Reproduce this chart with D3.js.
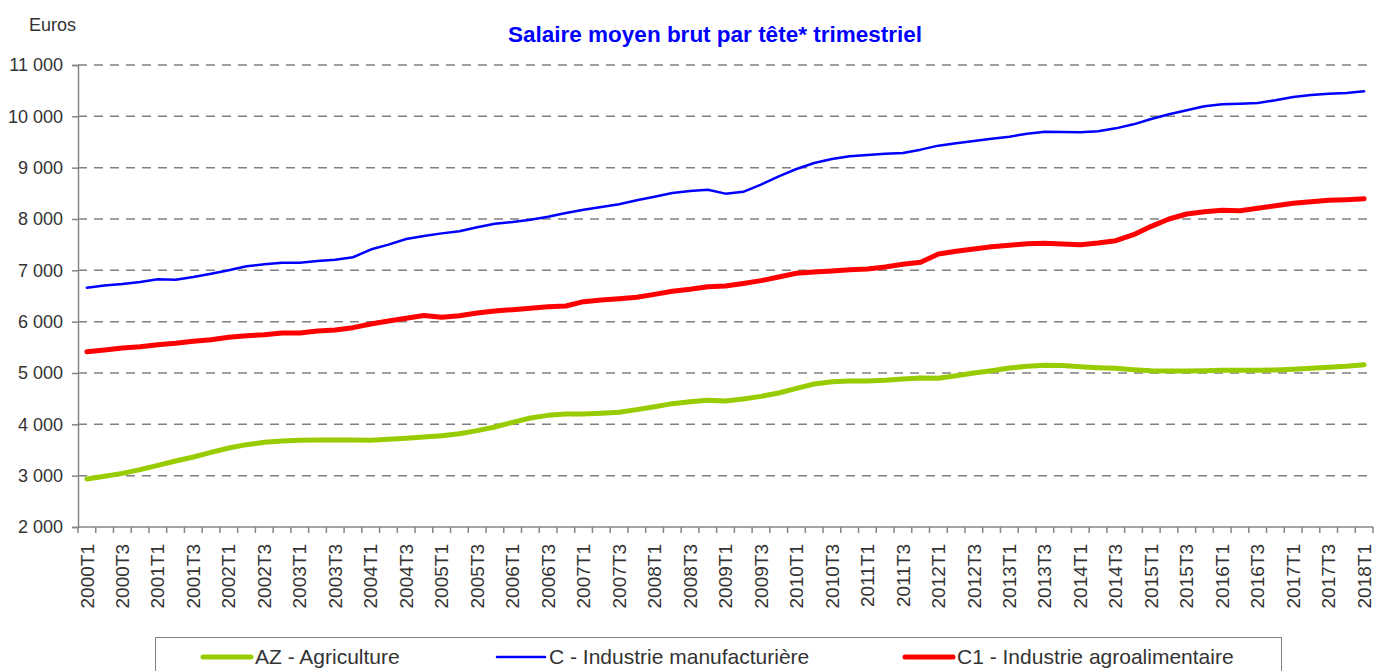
<!DOCTYPE html>
<html>
<head>
<meta charset="utf-8">
<script src="https://cdn.jsdelivr.net/npm/d3@7"></script>
<style>
	body { margin: 0; background: #fff; }
	svg { display: block; font-family: "Liberation Sans", Arial, sans-serif; }
</style>
</head>
<body>
<div id="chart"></div>
<script>
var years = d3.range(2000, 2019)
var quarters = []
years.forEach(function(y){
	for (var q = 1; q <= 4; q++){
		if (y == 2018 && q > 1) break
		quarters.push(y + 'T' + q)
	}
})

var yTicks = [2000, 3000, 4000, 5000, 6000, 7000, 8000, 9000, 10000, 11000]

var agriculture = [2935,2987,3045,3117,3201,3286,3364,3455,3539,3604,3649,3675,3688,3695,3695,3695,3688,3708,3727,3753,
	3779,3818,3877,3948,4039,4123,4175,4201,4201,4214,4234,4286,4344,4403,4442,4468,4455,4495,4545,4610,
	4701,4786,4831,4844,4844,4857,4883,4903,4896,4948,5000,5045,5097,5130,5149,5145,5123,5104,5091,5065,
	5045,5039,5039,5045,5052,5052,5052,5058,5071,5091,5110,5130,5162]

var manufacturiere = [6662,6705,6734,6773,6825,6818,6870,6935,7000,7078,7117,7150,7150,7182,7208,7255,7405,7500,7610,7670,
	7720,7760,7838,7909,7942,7987,8045,8117,8182,8234,8286,8364,8435,8506,8545,8571,8494,8530,8669,8831,
	8974,9091,9169,9221,9247,9273,9286,9351,9429,9474,9519,9565,9604,9662,9701,9695,9688,9708,9766,9844,
	9948,10039,10117,10195,10234,10247,10260,10312,10377,10416,10442,10455,10487]

var agroalimentaire = [5416,5448,5487,5513,5552,5578,5617,5649,5695,5727,5747,5779,5779,5818,5838,5883,5955,6013,6065,6120,
	6084,6117,6169,6208,6234,6260,6292,6305,6390,6422,6448,6474,6532,6591,6630,6682,6695,6745,6799,6870,
	6942,6968,6987,7013,7026,7065,7117,7156,7318,7370,7416,7461,7487,7519,7526,7515,7500,7532,7578,7695,
	7857,8000,8097,8143,8169,8162,8208,8260,8305,8338,8364,8377,8396]

var seriesNames = ['AZ - Agriculture', 'C - Industrie manufacturière', 'C1 - Industrie agroalimentaire']
var seriesColors = ['#99cc00', '#0000ff', '#ff0000']
var seriesWidths = [5, 2.5, 5]
var seriesValues = [agriculture, manufacturiere, agroalimentaire]

var width = 1378, height = 671
var plotLeft = 78, plotRight = 1373, plotTop = 65, plotBottom = 527

var svg = d3.select('#chart')
	.append('svg')
	.attr('width', width)
	.attr('height', height)

var x = d3.scaleBand()
	.domain(quarters)
	.range([plotLeft, plotRight])

var y = d3.scaleLinear()
	.domain([2000, 11000])
	.range([plotBottom, plotTop])

var fmt = function(d){
	return d3.format(',')(d).replace(',', ' ')
}

//dashed grid lines
svg.append('g')
	.selectAll('line')
	.data(yTicks.slice(1))
	.enter()
	.append('line')
	.attr('x1', plotLeft)
	.attr('x2', plotRight)
	.attr('y1', function(d){ return y(d) })
	.attr('y2', function(d){ return y(d) })
	.attr('stroke', '#808080')
	.attr('stroke-width', 1.5)
	.attr('stroke-dasharray', '9,7')

//y axis
var yAxis = svg.append('g')
	.attr('transform', 'translate(' + plotLeft + ',0)')
	.call(d3.axisLeft(y).tickValues(yTicks).tickSize(6).tickPadding(9).tickFormat(fmt))
yAxis.select('.domain').attr('stroke', '#868686').attr('stroke-width', 1.5)
yAxis.selectAll('.tick line').attr('stroke', '#868686').attr('stroke-width', 1.5)
yAxis.selectAll('.tick text')
	.attr('fill', '#333')
	.style('font-size', '18px')
	.style('font-family', '"Liberation Sans", Arial, sans-serif')

//x axis
svg.append('line')
	.attr('x1', plotLeft)
	.attr('x2', plotRight)
	.attr('y1', plotBottom)
	.attr('y2', plotBottom)
	.attr('stroke', '#868686')
	.attr('stroke-width', 1.5)

var boundaries = quarters.map(function(d){ return x(d) }).concat([x(quarters[quarters.length - 1]) + x.bandwidth()])
svg.append('g')
	.selectAll('line')
	.data(boundaries)
	.enter()
	.append('line')
	.attr('x1', function(d){ return d })
	.attr('x2', function(d){ return d })
	.attr('y1', plotBottom)
	.attr('y2', plotBottom + 6)
	.attr('stroke', '#868686')
	.attr('stroke-width', 1.5)

svg.append('g')
	.selectAll('text')
	.data(quarters.filter(function(d, i){ return i % 2 == 0 }))
	.enter()
	.append('text')
	.attr('transform', function(d){
		return 'translate(' + (x(d) + x.bandwidth() / 2) + ',' + (plotBottom + 17) + ') rotate(-90)'
	})
	.attr('dy', '0.35em')
	.attr('text-anchor', 'end')
	.attr('fill', '#333')
	.style('font-size', '19px')
	.text(function(d){ return d })

//series lines
var line = d3.line()
	.x(function(d, i){ return x(quarters[i]) + x.bandwidth() / 2 })
	.y(function(d){ return y(d) })

svg.append('g')
	.selectAll('path')
	.data(seriesValues)
	.enter()
	.append('path')
	.attr('d', function(d){ return line(d) })
	.attr('fill', 'none')
	.attr('stroke', function(d, i){ return seriesColors[i] })
	.attr('stroke-width', function(d, i){ return seriesWidths[i] })
	.attr('stroke-linejoin', 'round')
	.attr('stroke-linecap', 'round')

//title and unit
svg.append('text')
	.attr('x', 715)
	.attr('y', 41.5)
	.attr('text-anchor', 'middle')
	.attr('fill', '#0000ff')
	.style('font-size', '22.5px')
	.style('font-weight', 'bold')
	.text('Salaire moyen brut par tête* trimestriel')

svg.append('text')
	.attr('x', 29)
	.attr('y', 31)
	.attr('fill', '#333')
	.style('font-size', '18px')
	.text('Euros')

//legend
svg.append('rect')
	.attr('x', 155.5)
	.attr('y', 637.5)
	.attr('width', 1126)
	.attr('height', 60)
	.attr('fill', 'none')
	.attr('stroke', '#808080')
	.attr('stroke-width', 1)

var legendX = [203, 497, 905]
var legend = svg.append('g')
	.selectAll('g')
	.data(seriesNames)
	.enter()
	.append('g')
	.attr('transform', function(d, i){ return 'translate(' + legendX[i] + ',657)' })

legend.append('line')
	.attr('x1', 0)
	.attr('x2', 48)
	.attr('stroke', function(d, i){ return seriesColors[i] })
	.attr('stroke-width', function(d, i){ return seriesWidths[i] })
	.attr('stroke-linecap', 'round')

legend.append('text')
	.attr('x', 52)
	.attr('dy', '0.35em')
	.attr('fill', '#333')
	.style('font-size', '21px')
	.text(function(d){ return d })
</script>
</body>
</html>
